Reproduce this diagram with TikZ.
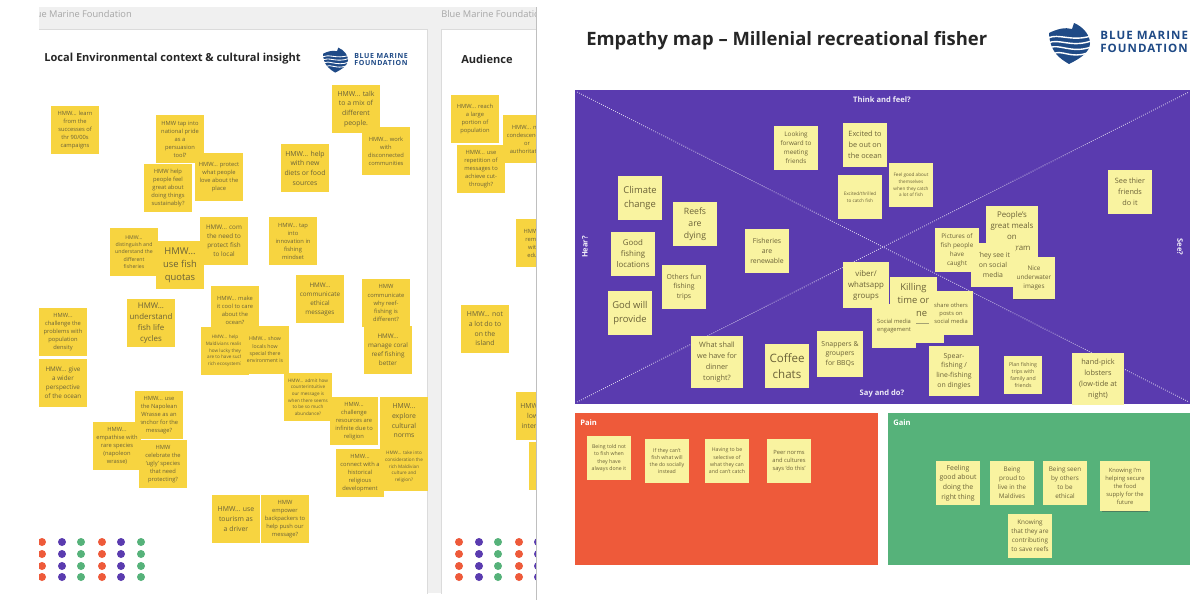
\documentclass[tikz,border=0pt]{standalone}
\usepackage{xcolor}
\usepackage{fontspec}
\setmainfont{Open Sans}
\newfontfamily\logofont[LetterSpace=9]{Open Sans}
\usepackage{tikz}
\usetikzlibrary{shadows}

\definecolor{noteyellow}{HTML}{F7D440}
\definecolor{notepale}{HTML}{F9F3A0}
\definecolor{notetext}{HTML}{6B6238}
\definecolor{boardpurple}{HTML}{5A3BAF}
\definecolor{boardred}{HTML}{EE5A3A}
\definecolor{boardgreen}{HTML}{56B27A}
\definecolor{logoblue}{HTML}{1F4A86}

\tikzset{
  note/.style={rectangle,inner sep=0pt,align=center,text=notetext,
    drop shadow={shadow xshift=0pt,shadow yshift=-1.6pt,shadow scale=0.93,opacity=.45,fill=black!75}},
  hmw/.style={note,fill=noteyellow,minimum size=1.2cm},
  pale/.style={note,fill=notepale,minimum size=1.09cm},
  fxs/.style={font=\fontsize{3.3}{4.7}\selectfont},
  fxt/.style={font=\fontsize{3.7}{5.2}\selectfont},
  fs/.style={font=\fontsize{4.1}{5.7}\selectfont},
  fn/.style={font=\fontsize{4.5}{6.4}\selectfont},
  fm/.style={font=\fontsize{4.9}{6.9}\selectfont},
  fp/.style={font=\fontsize{5.2}{7.8}\selectfont},
  fl/.style={font=\fontsize{5.6}{7.8}\selectfont},
  fxm/.style={font=\fontsize{6.2}{8.6}\selectfont},
  fxl/.style={font=\fontsize{6.7}{9.4}\selectfont},
  fh/.style={font=\fontsize{8.2}{11.4}\selectfont},
  tag/.style={text=white!90!boardpurple,inner sep=0pt,font=\fontsize{5.4}{6.5}\selectfont\bfseries},
  brand/.style={text=black!35,inner sep=0pt,font=\fontsize{6.6}{8}\selectfont},
  heading/.style={text=black!85,inner sep=0pt,font=\bfseries},
  pics/waves/.style={code={
    \fill[logoblue] (0,11) .. controls (8,7) and (16,5) .. (23,7) -- (25,1)
      .. controls (35,5) and (41,14) .. (41,21) .. controls (41,30) and (32,36) .. (20,42)
      .. controls (10,36) and (1,30) .. (0,11) -- cycle;
    \draw[white,line width=#1] (-1,16) .. controls (10,11) and (22,20) .. (42,14);
    \draw[white,line width=#1] (-1,21) .. controls (10,16) and (22,26) .. (42,19);
    \draw[white,line width=#1] (0,26) .. controls (10,21) and (22,32) .. (42,25);
    \draw[white,line width=#1] (4,32) .. controls (12,27) and (22,37) .. (38,31);
  }}
}

\begin{document}
\begin{tikzpicture}[x=0.025cm,y=-0.025cm]
    \useasboundingbox (0,0) rectangle (1200,600);
    \fill[white] (0,0) rectangle (1200,600);
    %
    \begin{scope}
    \clip (39,7) rectangle (536,593);
    \fill[black!6] (39,7) rectangle (536,593);
    \draw[black!14,fill=white] (20,29) rectangle (427,620);
    \draw[black!14,fill=white] (441,29) rectangle (600,620);
    \node[brand,anchor=east] (brandleft) at (132,14) {Blue Marine Foundation};
    \node[brand,anchor=west] (brandright) at (441,14) {Blue Marine Foundation};
    %
    \node[heading,anchor=west,font=\fontsize{7.87}{10}\selectfont\bfseries] (localtitle) at (44,59) {Local Environmental context \& cultural insight};
    \node[heading,anchor=west,font=\fontsize{7.87}{10}\selectfont\bfseries] (audtitle) at (461,59) {Audience};
    \pic[scale=0.61] at (323,47) {waves=0.6pt};
    \node[anchor=west,inner sep=0pt,align=left,text=logoblue,font=\fontsize{5}{5.2}\logofont\bfseries] (logoleft) at (354,59.5) {BLUE MARINE\\FOUNDATION};
    %
    \foreach \xo in {0,417}
      \foreach \x/\c in {42/boardred,62/boardpurple,81/boardgreen,102/boardred,121/boardpurple,141/boardgreen}
        \foreach \y in {542,554,566,577}
          \fill[\c] (\x+\xo,\y) circle (4);
    %
    \node[hmw,fs] (learn) at (75,130) {HMW... learn\\from the\\successes of\\thr 90/00s\\campaigns};
    \node[hmw,fs] (pride) at (180,139) {HMW tap into\\national pride\\as a\\persuasion\\tool?};
    \node[hmw,fs] (protect) at (219,177) {HMW... protect\\what people\\love about the\\place};
    \node[hmw,fs] (great) at (168,188) {HMW help\\people feel\\great about\\doing things\\sustainably?};
    \node[hmw,fm] (diets) at (305,168) {HMW... help\\with new\\diets or food\\sources};
    \node[hmw,fm] (mix) at (356,109) {HMW... talk\\to a mix of\\different\\people.};
    \node[hmw,fs] (work) at (386,151) {HMW... work\\with\\disconnected\\communities};
    \node[hmw,fxt] (distinguish) at (134,252) {HMW...\\distinguish and\\understand the\\different\\fisheries};
    \node[hmw,fn] (com) at (224,241) {HMW... com\\the need to\\protect fish\\to local};
    \node[hmw,fxl] (quotas) at (180,265) {HMW...\\use fish\\quotas};
    \node[hmw,fs] (innovation) at (293,241) {HMW... tap\\into\\innovation in\\fishing\\mindset};
    \node[hmw,fs] (cool) at (235,310) {HMW... make\\it cool to care\\about the\\ocean?};
    \node[hmw,fn] (ethical) at (320,299) {HMW...\\communicate\\ethical\\messages};
    \node[hmw,fs] (reef) at (386,303) {HMW\\communicate\\why reef-\\fishing is\\different?};
    \node[hmw,fs] (density) at (63,332) {HMW...\\challenge the\\problems with\\population\\density};
    \node[hmw,fn] (wider) at (63,383) {HMW... give\\a wider\\perspective\\of the ocean};
    \node[hmw,fl] (cycles) at (151,323) {HMW...\\understand\\fish life\\cycles};
    \node[hmw,fxs] (lucky) at (225,351) {HMW... help\\Maldivians realise\\how lucky they\\are to have such\\rich ecosystem?};
    \node[hmw,fxt] (special) at (265,350) {HMW... show\\locals how\\special there\\environment is};
    \node[hmw,fn] (coral) at (388,350) {HMW...\\manage coral\\reef fishing\\better};
    \node[hmw,fxs] (admit) at (308,397) {HMW... admit how\\counterintuitive\\our message is\\when there seems\\to be so much\\abundance?};
    \node[hmw,fs] (infinite) at (354,421) {HMW...\\challenge\\resources are\\infinite due to\\religion};
    \node[hmw,fm] (norms) at (404,421) {HMW...\\explore\\cultural\\norms};
    \node[hmw,fs] (history) at (360,473) {HMW...\\connect with a\\historical\\religious\\development};
    \node[hmw,fxs] (religion) at (404,467) {HMW... take into\\consideration the\\rich Maldivian\\culture and\\religion?};
    \node[hmw,fs] (wrasse) at (159,415) {HMW... use\\the Napolean\\Wrasse as an\\anchor for the\\message?};
    \node[hmw,fs] (empathise) at (117,446) {HMW...\\empathise with\\rare species\\(napoleon\\wrasse)};
    \node[hmw,fs] (ugly) at (163,464) {HMW\\celebrate the\\`ugly' species\\that need\\protecting?};
    \node[hmw,fm] (tourism) at (236,519) {HMW... use\\tourism as\\a driver};
    \node[hmw,fs] (backpack) at (285,519) {HMW\\empower\\backpackers to\\help push our\\message?};
    %
    \node[hmw,fs] (reach) at (475,119) {HMW... reach\\a large\\portion of\\population};
    \node[hmw,fs] (condescend) at (527,139) {HMW... not\\condescending\\or\\authoritative};
    \node[hmw,fs] (repeat) at (481,169) {HMW... use\\repetition of\\messages to\\achieve cut-\\through?};
    \node[hmw,fs] (remo) at (540,243) {HMW\phantom{xxxxxx}\\remo\phantom{xxxxx}\\with\phantom{xxxx}\\edu\phantom{xxxxx}};
    \node[hmw,fm] (island) at (485,329) {HMW... not\\a lot do to\\on the\\island};
    \node[hmw,fm] (lower) at (540,416) {HMW\phantom{xxxxxx}\\low\phantom{xxxx}\\inter\phantom{xxxxxx}};
    \node[hmw,fm] (last) at (553,466) {};
    \end{scope}
    \draw[black!25] (536,7) -- (536,600);
    %
    \node[heading,anchor=west,font=\fontsize{13.1}{16}\selectfont\bfseries] (maptitle) at (586,41) {Empathy map -- Millenial recreational fisher};
    \pic at (1049,22) {waves=1pt};
    \node[anchor=west,inner sep=0pt,align=left,text=logoblue,font=\fontsize{8.2}{9.2}\logofont\bfseries] (logoright) at (1100,41.5) {BLUE MARINE\\FOUNDATION};
    %
    \fill[boardpurple] (575,90) rectangle (1190,404);
    \coordinate (tl) at (577,92);
    \coordinate (tr) at (1189,92);
    \coordinate (bl) at (577,402);
    \coordinate (br) at (1189,402);
    \draw[white!75!boardpurple,densely dotted,line width=0.6pt] (tl) -- (br);
    \draw[white!75!boardpurple,densely dotted,line width=0.6pt] (bl) -- (tr);
    \node[tag] (think) at (882,100) {Think and feel?};
    \node[tag] (say) at (882,394) {Say and do?};
    \node[tag,rotate=90] (hear) at (585,247) {Hear?};
    \node[tag,rotate=-90] (see) at (1180,247) {See?};
    %
    \node[pale,fn] (looking) at (796,148) {Looking\\forward to\\meeting\\friends};
    \node[pale,fp] (excited) at (865,145) {Excited to\\be out on\\the ocean};
    \node[pale,fxs] (thrilled) at (860,197) {Excited/thrilled\\to catch fish};
    \node[pale,fxs] (feelgood) at (911,185) {Feel good about\\themselves\\when they catch\\a lot of fish};
    \node[pale,fxl] (climate) at (640,198) {Climate\\change};
    \node[pale,fxm] (reefs) at (695,224) {Reefs\\are\\dying};
    \node[pale,fl] (locations) at (633,254) {Good\\fishing\\locations};
    \node[pale,fm] (fisheries) at (767,251) {Fisheries\\are\\renewable};
    \node[pale,fm] (others) at (684,287) {Others fun\\fishing\\trips};
    \node[pale,fxl] (god) at (630,313) {God will\\provide};
    \node[pale,fp,minimum size=1.3cm] (dinner) at (717,362) {What shall\\we have for\\dinner\\tonight?};
    \node[pale,fh] (coffee) at (787,366) {Coffee\\chats};
    \node[pale,fm,minimum size=1.13cm] (snappers) at (840,354) {Snappers \&\\groupers\\for BBQs};
    \node[pale,fl,minimum size=1.13cm] (viber) at (866,285) {viber/\\whatsapp\\groups};
    \node[pale] (behind) at (922,321) {};
    \node[pale,fxl,minimum width=1.18cm,minimum height=1.15cm] (killing) at (913.5,300) {Killing\\time or\\online};
    \node[pale,fs] (socialeng) at (894,326) {Social media\\engagement};
    \node[pale,fs] (share) at (951,313) {share others\\posts on\\social media};
    \node[pale,fl,minimum size=1.3cm] (meals) at (1012,232) {People's\\great meals\\on\\Instagram};
    \node[pale,fm] (theysee) at (993,265) {They see it\\on social\\media};
    \node[pale,fn] (pictures) at (957,250) {Pictures of\\fish people\\have\\caught};
    \node[pale,fn,minimum size=1.05cm] (nice) at (1034,278) {Nice\\underwater\\images};
    \node[pale,fp] (thier) at (1130,192) {See thier\\friends\\do it};
    \node[pale,fm,minimum size=1.24cm] (spear) at (954,371) {Spear-\\fishing /\\line-fishing\\on dingies};
    \node[pale,fxt,minimum size=0.93cm] (plan) at (1023,375) {Plan fishing\\trips with\\family and\\friends};
    \node[pale,fp,minimum size=1.28cm] (lobsters) at (1098,379) {hand-pick\\lobsters\\(low-tide at\\night)};
    %
    \fill[boardred] (575,413) rectangle (878,565);
    \fill[boardgreen] (888,413) rectangle (1190,565);
    \node[tag,anchor=west,text=white] (pain) at (580,423) {Pain};
    \node[tag,anchor=west,text=white] (gain) at (893,423) {Gain};
    %
    \node[pale,fxt] (told) at (609,458) {Being told not\\to fish when\\they have\\always done it};
    \node[pale,fxt] (socially) at (667,461) {If they can't\\fish what will\\the do socially\\instead};
    \node[pale,fxt] (selective) at (727,461) {Having to be\\selective of\\what they can\\and can't catch};
    \node[pale,fs] (peer) at (789,461) {Peer norms\\and cultures\\says `do this'};
    \node[pale,fm] (feeling) at (958,483) {Feeling\\good about\\doing the\\right thing};
    \node[pale,fn] (proud) at (1012,483) {Being\\proud to\\live in the\\Maldives};
    \node[pale,fn] (seen) at (1065,483) {Being seen\\by others\\to be\\ethical};
    \node[pale,fs,minimum size=1.26cm] (secure) at (1125,486) {Knowing I'm\\helping secure\\the food\\supply for the\\future};
    \node[pale,fn] (contribute) at (1030,536) {Knowing\\that they are\\contributing\\to save reefs};
    %
\end{tikzpicture}
\end{document}
